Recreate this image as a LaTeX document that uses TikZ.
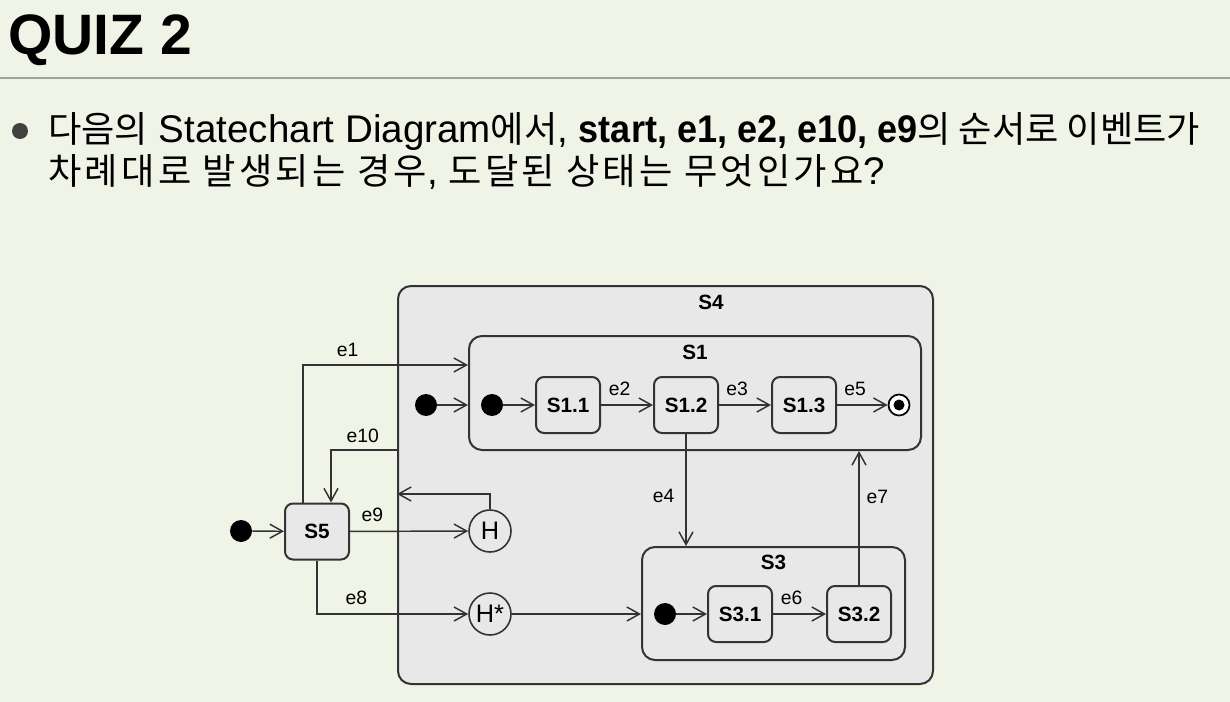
\documentclass[tikz,border=0pt]{standalone}
\usepackage{graphicx}
\usepackage{fontspec}
\setmainfont{Liberation Sans}
\newfontfamily\kr[Scale=0.94]{Noto Sans CJK KR}
\newfontfamily\krwide[Scale=0.94, LetterSpace=9]{Noto Sans CJK KR}
\usetikzlibrary{arrows.meta}

\newdimen\pxu \pxu=0.75pt
\definecolor{slidebg}{RGB}{240,244,230}
\definecolor{statefill}{RGB}{232,232,232}
\definecolor{ink}{RGB}{51,51,51}
\definecolor{rulegray}{RGB}{160,165,155}
\definecolor{bulletgray}{RGB}{64,64,64}

\tikzset{
  composite/.style={draw=ink, line width=1.5pt, fill=statefill, rounded corners=13\pxu, inner sep=0pt},
  ctitle/.style={font=\fontsize{15.5}{18}\selectfont\bfseries, inner sep=0pt},
  simple/.style={draw=ink, line width=1.5pt, fill=statefill, rounded corners=8\pxu,
    minimum width=64\pxu, minimum height=56\pxu, inner sep=0pt, font=\fontsize{15.5}{18}\selectfont\bfseries},
  initial/.style={circle, fill=black, minimum size=22\pxu, inner sep=0pt},
  final/.style={circle, draw=black, line width=1.3pt, fill=white, minimum size=21\pxu, inner sep=0pt,
    path picture={\fill[black] (path picture bounding box.center) circle (5.5\pxu);}},
  history/.style={circle, draw=ink, line width=1.2pt, fill=statefill, minimum size=42\pxu, inner sep=0pt,
    font=\fontsize{19}{22}\selectfont},
  trans/.style={draw=ink, line width=1.1pt, -{Straight Barb[length=9.5pt, width=10.5pt]}},
  ev/.style={font=\fontsize{14.5}{17}\selectfont, inner sep=0pt}
}

\begin{document}
\begin{tikzpicture}[x=0.75pt, y=-0.75pt]

% Slide
\useasboundingbox (0,0) rectangle (1230,702);
\fill[slidebg] (0,0) rectangle (1230,702);
\node[anchor=base west, inner sep=0pt, font=\fontsize{42.75}{48}\selectfont\bfseries] (title) at (8,55) {QUIZ 2};
\draw[rulegray, line width=2.5\pxu] (0,78) -- (1230,78);

% Question
\node[circle, fill=bulletgray, minimum size=16\pxu, inner sep=0pt] (bullet) at (20,131) {};
\node[anchor=base west, inner sep=0pt, font=\fontsize{28.9}{34}\selectfont] (line1) at (48,143)
  {{\kr 다음의} Statechart Diagram{\kr 에서}, \scalebox{0.935}[1]{\textbf{start, e1, e2, e10, e9}}{\kr 의 순서로 이벤트가}};
\node[anchor=base west, inner sep=0pt, font=\fontsize{28.9}{34}\selectfont] (line2) at (48,185)
  {{\krwide 차례대로 발생되는 경우}, {\krwide 도달된 상태는 무엇인가요}?};

% Composite states
\node[composite, minimum width=535\pxu, minimum height=398\pxu,
  label={[ctitle, anchor=center, xshift=45.5\pxu, yshift=-17\pxu]north:S4}] (s4) at (665.5,485) {};
\node[composite, minimum width=452\pxu, minimum height=114\pxu,
  label={[ctitle, anchor=center, yshift=-17\pxu]north:S1}] (s1) at (695,393) {};
\node[composite, minimum width=263\pxu, minimum height=113\pxu,
  label={[ctitle, anchor=center, yshift=-16\pxu]north:S3}] (s3) at (773.5,603.5) {};

% S1 contents
\node[initial] (i4) at (426,405) {};
\node[initial] (i1) at (492,405) {};
\foreach \n/\x in {1/568,2/686,3/804}
  \node[simple] (s1\n) at (\x,405) {S1.\n};
\node[final] (f1) at (899,405) {};

% S3 contents
\node[initial] (i3) at (665,614) {};
\node[simple] (s31) at (740,614) {S3.1};
\node[simple] (s32) at (859,614) {S3.2};

% S5 and history states
\node[initial] (i0) at (241,531) {};
\node[simple] (s5) at (317,531.5) {S5};
\node[history] (h) at (490,531) {H};
\node[history] (hs) at (490,614) {H*};

% Transitions inside S1
\draw[trans] (i4) -- (i4 -| s1.west);
\draw[trans] (i1) -- (s11);
\draw[trans] (s11) -- node[ev, above=9\pxu, pos=0.36] (e2) {e2} (s12);
\draw[trans] (s12) -- node[ev, above=9\pxu, pos=0.35] (e3) {e3} (s13);
\draw[trans] (s13) -- node[ev, above=9\pxu, pos=0.36] (e5) {e5} (f1);

% Transitions between S1 and S3
\draw[trans] (s12) -- node[ev, left=11\pxu, pos=0.55] (e4) {e4} (s12 |- s3.north);
\draw[trans] (s32) -- node[ev, right=7\pxu, pos=0.66] (e7) {e7} (s32 |- s1.south);

% Transitions inside S3
\draw[trans] (i3) -- (s31);
\draw[trans] (s31) -- node[ev, above=9\pxu, pos=0.35] (e6) {e6} (s32);

% S5 transitions
\draw[trans] (i0) -- (s5);
\draw[trans] ([xshift=-14\pxu]s5.north) |- node[ev, above=8\pxu, pos=0.635] (e1) {e1} ([yshift=28\pxu]s1.west);
\draw[trans] ([yshift=35\pxu]s4.west) -| node[ev, above=7\pxu, pos=0.26] (e10) {e10} ([xshift=14\pxu]s5.north);
\draw[trans] (s5) -- node[ev, above=9\pxu, pos=0.19] (e9) {e9} (h);
\draw[trans] (s5.south) |- node[ev, above=9\pxu, pos=0.63] (e8) {e8} (hs);

% History states
\draw[trans] (h.north) |- ([yshift=-9\pxu]s4.west);
\draw[trans] (hs) -- (hs -| s3.west);

\end{tikzpicture}
\end{document}
